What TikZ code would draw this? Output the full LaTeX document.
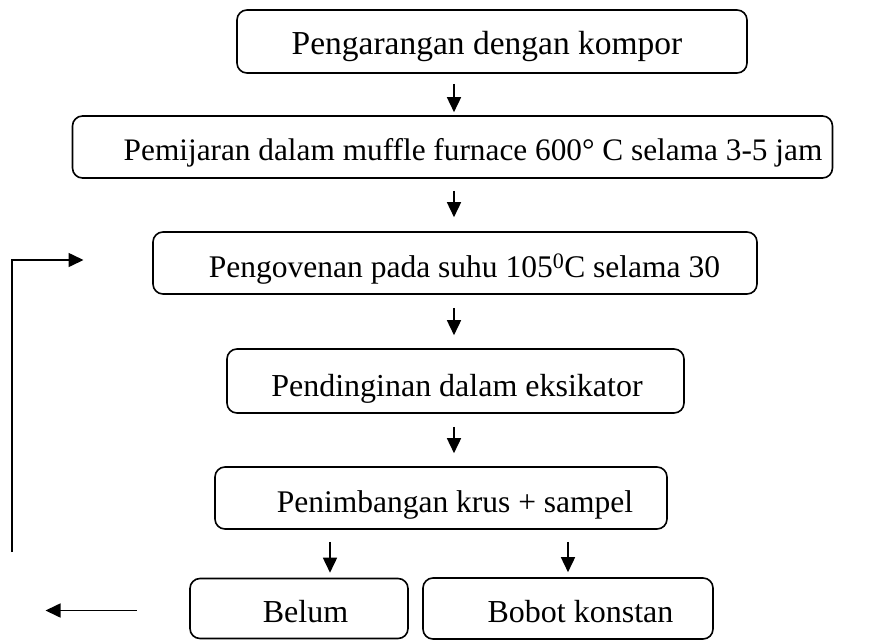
\documentclass[tikz,border=0pt]{standalone}
\usepackage{fontspec}
\setmainfont{Liberation Serif}
\usetikzlibrary{arrows.meta}
\begin{document}
\begin{tikzpicture}[x=1pt,y=-1pt,
  box/.style={draw,line width=1.6pt,rounded corners=10pt,inner sep=0pt,text depth=0pt},
  fs/.style={font={\fontsize{#1}{#1}\selectfont}},
  arr/.style={line width=1.6pt,-{Triangle[length=15pt,width=14pt]}}]
\useasboundingbox (0,0) rectangle (873,640);
\node[box,fs=33.5,text height=25.2pt,minimum width=510pt,minimum height=63pt] (b1) at (492,41.5) {Pengarangan dengan kompor\hspace*{10pt}};
\node[box,fs=31.3,text height=26.7pt,minimum width=760pt,minimum height=62pt] (b2) at (452.5,147) {\hspace*{41pt}Pemijaran dalam muffle furnace 600° C selama 3-5 jam};
\node[box,fs=31.5,text height=28.3pt,minimum width=604pt,minimum height=62pt] (b3) at (455,263) {\hspace*{19pt}Pengovenan pada suhu 105\textsuperscript{0}C selama 30};
\node[box,fs=32,text height=31.2pt,minimum width=457pt,minimum height=64pt] (b4) at (455.5,381) {\hspace*{3pt}Pendinginan dalam eksikator};
\node[box,fs=31.5,text height=28.9pt,minimum width=452pt,minimum height=62pt] (b5) at (441,498) {\hspace*{28pt}Penimbangan krus + sampel};
\node[box,fs=32,text height=28.2pt,minimum width=218pt,minimum height=60pt] (b6) at (299,608.5) {\hspace*{13pt}Belum};
\node[box,fs=32,text height=28.2pt,minimum width=290pt,minimum height=61pt] (b7) at (568,608.5) {\hspace*{25pt}Bobot konstan};
\coordinate (ax) at (454,0);
\coordinate (al) at (330,0);
\coordinate (ar) at (568,0);
\draw[arr,shorten <=10pt,shorten >=3pt] (b1.south -| ax) -- (b2.north -| ax);
\draw[arr,shorten <=12pt,shorten >=14pt] (b2.south -| ax) -- (b3.north -| ax);
\draw[arr,shorten <=13pt,shorten >=13pt] (b3.south -| ax) -- (b4.north -| ax);
\draw[arr,shorten <=13pt,shorten >=13pt] (b4.south -| ax) -- (b5.north -| ax);
\draw[arr,shorten <=12pt,shorten >=5pt] (b5.south -| al) -- (b6.north -| al);
\draw[arr,shorten <=12pt,shorten >=5pt] (b5.south -| ar) -- (b7.north -| ar);
\coordinate (l1) at (136.5,610.5);
\coordinate (l2) at (45.5,610.5);
\draw[arr] (l1) -- (l2);
\coordinate (v1) at (12,552);
\coordinate (v2) at (12,260);
\coordinate (v3) at (83.5,260);
\draw[arr] (v1) -- (v2) -- (v3);
\end{tikzpicture}
\end{document}
